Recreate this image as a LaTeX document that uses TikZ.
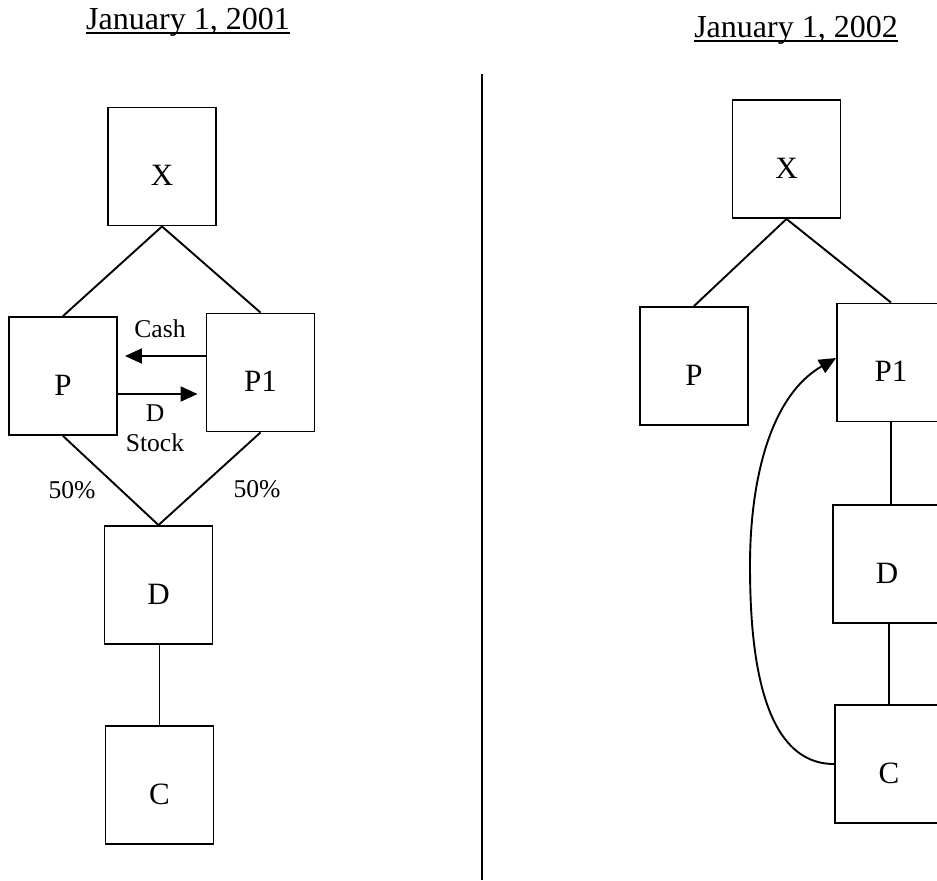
\documentclass[tikz,border=0pt]{standalone}
\usepackage{fontspec}
\setmainfont{Liberation Serif}
\usetikzlibrary{arrows.meta}
\begin{document}
\begin{tikzpicture}[x=0.5pt,y=-0.5pt,
  box/.style={draw,line width=0.95pt,inner sep=0pt,minimum width=54pt,minimum height=59pt,
    font=\fontsize{15.5}{18}\selectfont,text height=19pt,text depth=0pt},
  link/.style={line width=0.95pt},
  arr/.style={line width=0.95pt,-{Triangle[length=8.5pt,width=7.5pt]}},
  small/.style={inner sep=0pt,font=\fontsize{12.8}{15}\selectfont},
  title/.style={inner sep=0pt,anchor=base,font=\fontsize{16}{19}\selectfont}]
\clip (0,0) rectangle (937,880);
% titles
\node[title] (t1) at (188,29.5) {January 1, 2001};
\node[title] (t2) at (796,37.5) {January 1, 2002};
\draw[line width=1pt] ([yshift=-1.6pt]t1.base west) -- ([yshift=-1.6pt]t1.base east);
\draw[line width=1pt] ([yshift=-1.6pt]t2.base west) -- ([yshift=-1.6pt]t2.base east);
% divider
\coordinate (divtop) at (482,74);
\coordinate (divbot) at (482,880);
\draw[line width=1pt] (divtop) -- (divbot);
% left diagram
\node[box] (Xa) at (162,166.5) {X};
\node[box] (Pa) at (63,376) {P};
\node[box] (P1a) at (260.5,372.5) {P1};
\node[box] (Da) at (158.5,585) {D};
\node[box] (Ca) at (159.5,785) {C};
\draw[link] (Xa.south) -- (Pa.north);
\draw[link] (Xa.south) -- (P1a.north);
\draw[link] (Pa.south) -- (Da.north);
\draw[link] (P1a.south) -- (Da.north);
\draw[link] (Ca.north |- Da.south) -- (Ca.north);
\coordinate (cashy) at (0,356);
\coordinate (dy) at (0,394);
\draw[arr,shorten >=3.5pt] (P1a.west |- cashy) -- (Pa.east |- cashy);
\draw[arr,shorten >=4pt] (Pa.east |- dy) -- (P1a.west |- dy);
\node[small] (cash) at (160,329) {Cash};
\node[small] (dl) at (155,413) {D};
\node[small] (stock) at (155,443) {Stock};
\node[small] (pl) at (72,490) {50\%};
\node[small] (pr) at (257,489) {50\%};
% right diagram
\node[box] (Xb) at (786.5,159) {X};
\node[box] (Pb) at (694,366) {P};
\node[box] (P1b) at (891,362.5) {P1};
\node[box] (Db) at (887,564) {D};
\node[box] (Cb) at (889,764) {C};
\draw[link] (Xb.south) -- (Pb.north);
\draw[link] (Xb.south) -- (P1b.north);
\draw[link] (P1b.south) -- (P1b.south |- Db.north);
\draw[link] (Cb.north |- Db.south) -- (Cb.north);
\coordinate (loop) at (750,565);
\coordinate (tipy) at (0,358);
\draw[arr] (Cb.west) to[out=180,in=-90,looseness=0.9] (loop)
  to[out=90,in=210,looseness=0.9] (P1b.west |- tipy);
\end{tikzpicture}
\end{document}
